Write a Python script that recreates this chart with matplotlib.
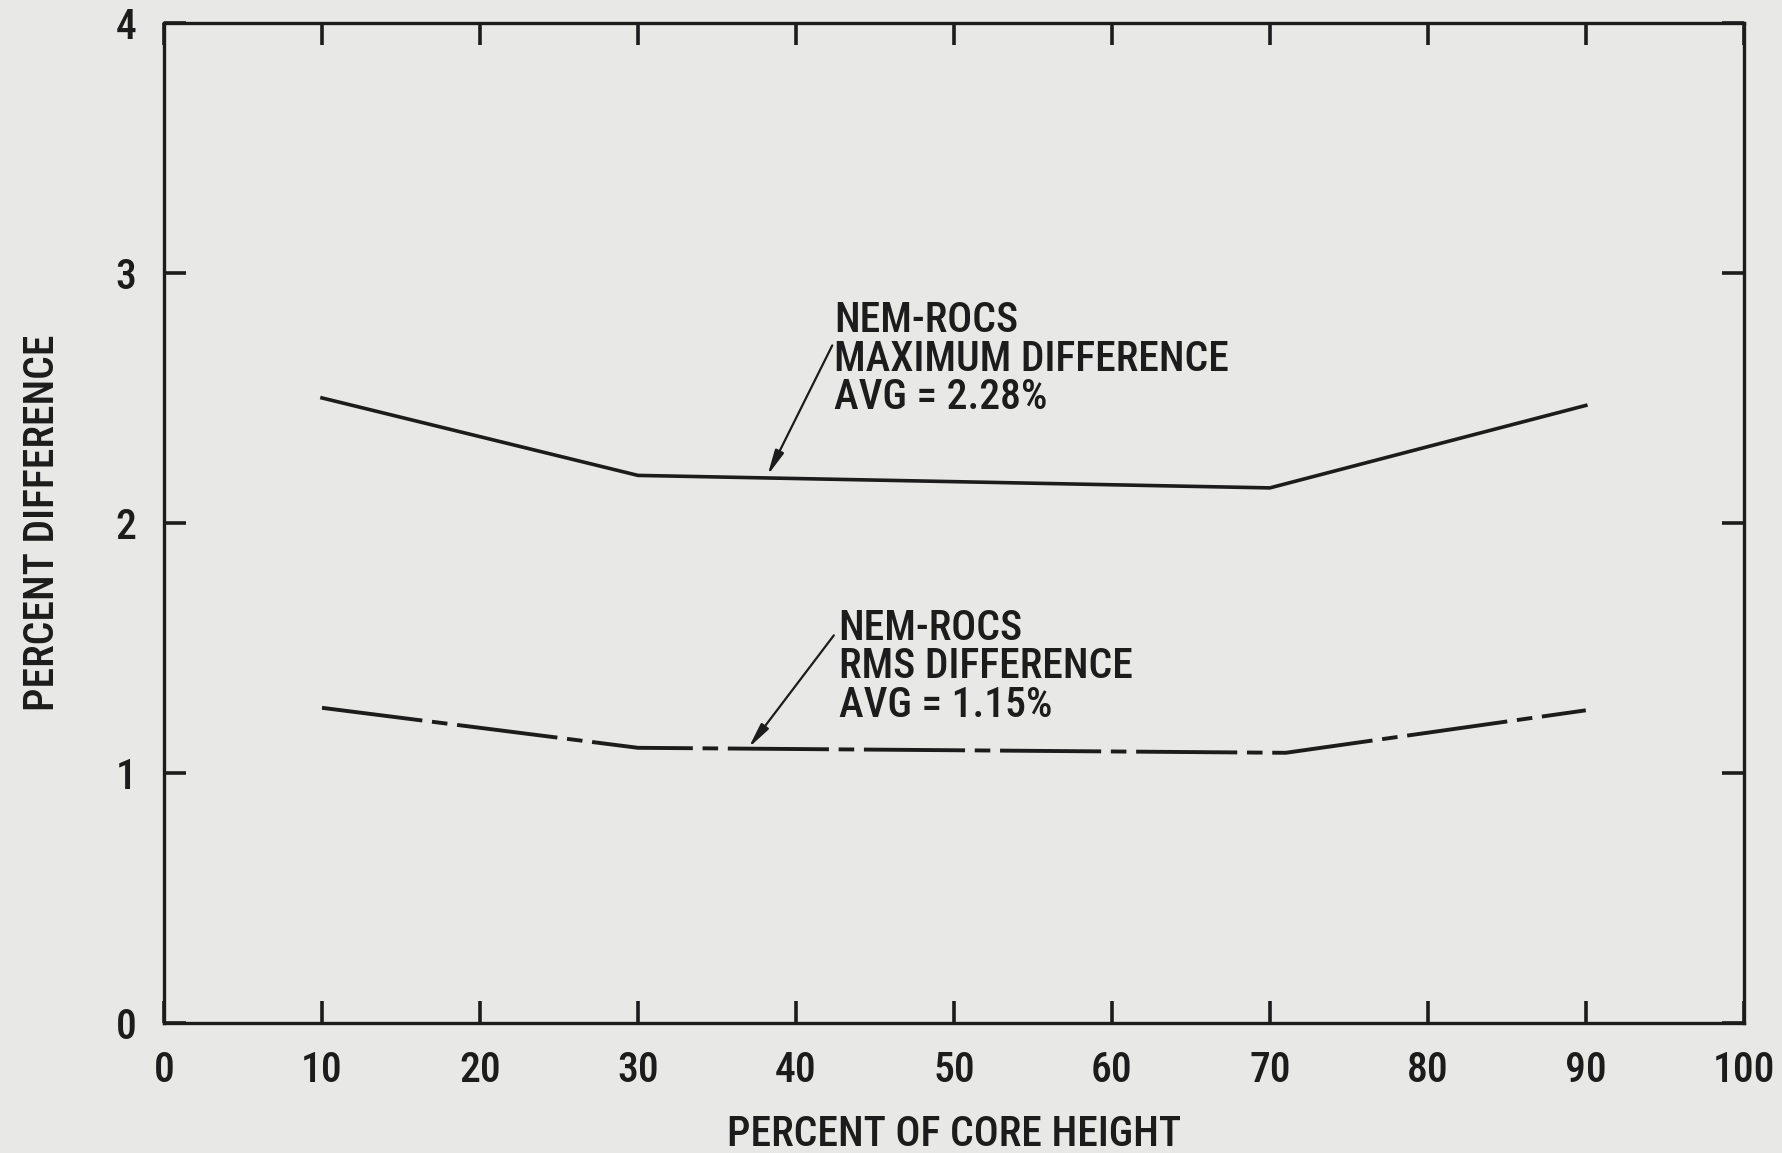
import matplotlib
matplotlib.use("Agg")
import matplotlib.pyplot as plt

# ---- data ----
core_height = [10, 30, 70, 90]
max_diff = [2.50, 2.19, 2.14, 2.47]
rms_height = [10, 30, 71, 90]
rms_diff = [1.26, 1.10, 1.08, 1.25]

x_ticks = [0, 10, 20, 30, 40, 50, 60, 70, 80, 90, 100]
y_ticks = [0, 1, 2, 3, 4]

max_label = "NEM-ROCS\nMAXIMUM DIFFERENCE\nAVG = 2.28%"
rms_label = "NEM-ROCS\nRMS DIFFERENCE\nAVG = 1.15%"

FAM = ['DejaVu Sans Condensed', 'Liberation Sans Narrow', 'Roboto Condensed',
       'Roboto', 'DejaVu Sans']
plt.rcParams['font.family'] = FAM
plt.rcParams['font.stretch'] = 'condensed'
plt.rcParams['font.weight'] = 'medium'
plt.rcParams['axes.labelweight'] = 'medium'
INK = '#1c1c1c'
BG = '#e8e8e6'
FS = 30

fig = plt.figure(figsize=(17.83, 11.53), dpi=100, facecolor=BG)
ax = fig.add_axes([0.092, 0.113, 0.886, 0.867], facecolor=BG)

ax.plot(core_height, max_diff, color=INK, lw=2.6, solid_joinstyle='round')
ax.plot(rms_height, rms_diff, color=INK, lw=2.8,
        dashes=(26, 2.5, 4, 2.5))

ax.set_xlim(0, 100)
ax.set_ylim(0, 4)
ax.set_xticks(x_ticks)
ax.set_yticks(y_ticks)
ax.set_xticklabels([str(v) for v in x_ticks])
ax.set_yticklabels([str(v) for v in y_ticks])

for s in ax.spines.values():
    s.set_linewidth(2.4)
    s.set_color(INK)

ax.tick_params(axis='both', direction='in', length=16, width=2.6,
               colors=INK, labelsize=FS, top=True, right=True,
               labeltop=False, labelright=False)
ax.tick_params(axis='x', pad=20)
ax.tick_params(axis='y', pad=20)

ax.set_xlabel("PERCENT OF CORE HEIGHT", fontsize=FS, color=INK, labelpad=16)
ax.set_ylabel("PERCENT DIFFERENCE", fontsize=FS, color=INK, labelpad=38)

ax.text(42.4, 2.89, max_label, fontsize=FS, color=INK, va='top', ha='left',
        linespacing=0.92)
ax.text(42.7, 1.66, rms_label, fontsize=FS, color=INK, va='top', ha='left',
        linespacing=0.92)

ax.annotate("", xy=(38.2, 2.19), xytext=(42.3, 2.71),
            arrowprops=dict(arrowstyle='-|>,head_length=1.5,head_width=0.28',
                            color=INK, lw=1.6, shrinkA=0, shrinkB=0))
ax.annotate("", xy=(37.0, 1.10), xytext=(42.4, 1.55),
            arrowprops=dict(arrowstyle='-|>,head_length=1.5,head_width=0.28',
                            color=INK, lw=1.6, shrinkA=0, shrinkB=0))

fig.savefig("out.png", dpi=100, facecolor=BG)
